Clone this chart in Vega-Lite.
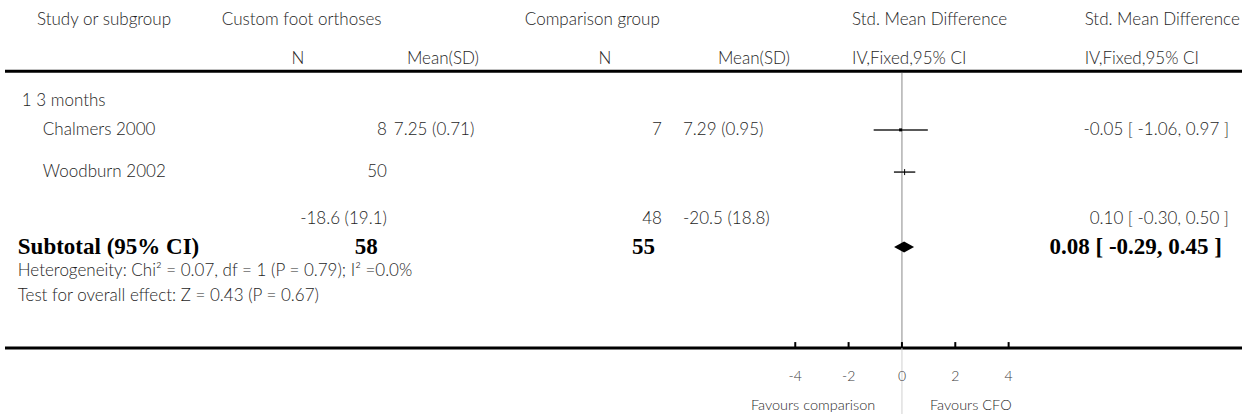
{
  "$schema": "https://vega.github.io/schema/vega-lite/v6.json",
  "width": 1237,
  "height": 414,
  "autosize": {"type": "none"},
  "padding": {"left": 5, "top": 0, "right": 0, "bottom": 0},
  "background": "white",
  "config": {
    "view": {"stroke": null},
    "text": {"font": "Lato", "fontWeight": 300, "fontSize": 17, "color": "#1e1e1e", "baseline": "middle"}
  },
  "datasets": {
    "rows": [
      {"line": 3.9, "group": "1 3 months"},
      {"line": 5.02, "study": "Chalmers 2000", "n1": "8", "mean1": "7.25 (0.71)", "n2": "7", "mean2": "7.29 (0.95)", "ci": "-0.05 [ -1.06, 0.97 ]", "smd": -0.05, "lo": -1.06, "hi": 0.97, "marker": "square"},
      {"line": 6.65, "study": "Woodburn 2002", "n1": "50", "smd": 0.10, "lo": -0.30, "hi": 0.50, "marker": "bar"},
      {"line": 8.46, "mean1r": "-18.6 (19.1)", "n2": "48", "mean2": "-20.5 (18.8)", "ci": "0.10 [ -0.30, 0.50 ]"}
    ],
    "subtotal": [
      {"line": 9.55, "label": "Subtotal (95% CI)", "n1": "58", "n2": "55", "ci": "0.08 [ -0.29, 0.45 ]", "smd": 0.08, "lo": -0.29, "hi": 0.45}
    ],
    "notes": [
      {"line": 10.47, "text": "Heterogeneity: Chi² = 0.07, df = 1 (P = 0.79); I² =0.0%"},
      {"line": 11.44, "text": "Test for overall effect: Z = 0.43 (P = 0.67)"}
    ],
    "headers": [
      {"line": 0.78, "col": "study", "text": "Study or subgroup"},
      {"line": 0.78, "col": "g1", "text": "Custom foot orthoses"},
      {"line": 0.78, "col": "g2", "text": "Comparison group"},
      {"line": 0.78, "col": "plot", "text": "Std. Mean Difference"},
      {"line": 0.78, "col": "est", "text": "Std. Mean Difference"},
      {"line": 2.28, "col": "n1", "text": "N"},
      {"line": 2.28, "col": "m1", "text": "Mean(SD)"},
      {"line": 2.28, "col": "n2", "text": "N"},
      {"line": 2.28, "col": "m2", "text": "Mean(SD)"},
      {"line": 2.28, "col": "plot", "text": "IV,Fixed,95% CI"},
      {"line": 2.28, "col": "est", "text": "IV,Fixed,95% CI"}
    ],
    "ticks": [
      {"v": -4, "label": "-4"}, {"v": -2, "label": "-2"}, {"v": 0, "label": "0"}, {"v": 2, "label": "2"}, {"v": 4, "label": "4"}
    ],
    "favours": [
      {"side": "left", "text": "Favours comparison"},
      {"side": "right", "text": "Favours CFO"}
    ]
  },
  "layer": [
    {
      "data": {"values": [{}]},
      "mark": {"type": "rule", "strokeWidth": 3, "color": "#000"},
      "encoding": {
        "x": {"datum": -33.63, "type": "quantitative", "scale": {"domain": [-33.63, 12.75], "nice": false, "zero": false}, "axis": null},
        "x2": {"datum": 12.75},
        "y": {"datum": 2.75, "type": "quantitative", "scale": {"domain": [0, 16], "nice": false, "zero": false, "reverse": true}, "axis": null}
      }
    },
    {
      "data": {"values": [{}]},
      "mark": {"type": "rule", "strokeWidth": 3, "color": "#000"},
      "encoding": {
        "x": {"datum": -33.63, "type": "quantitative"},
        "x2": {"datum": 12.75},
        "y": {"datum": 13.45, "type": "quantitative"}
      }
    },
    {
      "data": {"values": [{}]},
      "mark": {"type": "rule", "strokeWidth": 1, "color": "#8a8a8a"},
      "encoding": {
        "x": {"datum": 0, "type": "quantitative"},
        "y": {"datum": 2.82, "type": "quantitative"},
        "y2": {"datum": 13.45}
      }
    },
    {
      "data": {"values": [{}]},
      "mark": {"type": "rule", "strokeWidth": 1, "color": "#d0d0d0"},
      "encoding": {
        "x": {"datum": 0, "type": "quantitative"},
        "y": {"datum": 13.45, "type": "quantitative"},
        "y2": {"datum": 16}
      }
    },
    {
      "data": {"name": "ticks"},
      "mark": {"type": "rule", "strokeWidth": 2, "color": "#000"},
      "encoding": {
        "x": {"field": "v", "type": "quantitative"},
        "y": {"datum": 13.22, "type": "quantitative"},
        "y2": {"datum": 13.45}
      }
    },
    {
      "data": {"name": "ticks"},
      "mark": {"type": "text", "align": "center", "fontSize": 14, "color": "#3a3a3a"},
      "encoding": {
        "x": {"field": "v", "type": "quantitative"},
        "y": {"datum": 14.57, "type": "quantitative"},
        "text": {"field": "label"}
      }
    },
    {
      "data": {"name": "favours"},
      "transform": [{"filter": "datum.side === 'left'"}],
      "mark": {"type": "text", "align": "right", "fontSize": 14.5, "color": "#2a2a2a"},
      "encoding": {
        "x": {"datum": -1.0, "type": "quantitative"},
        "y": {"datum": 15.69, "type": "quantitative"},
        "text": {"field": "text"}
      }
    },
    {
      "data": {"name": "favours"},
      "transform": [{"filter": "datum.side === 'right'"}],
      "mark": {"type": "text", "align": "left", "fontSize": 14.5, "color": "#2a2a2a"},
      "encoding": {
        "x": {"datum": 1.05, "type": "quantitative"},
        "y": {"datum": 15.69, "type": "quantitative"},
        "text": {"field": "text"}
      }
    },
    {
      "data": {"name": "headers"},
      "transform": [{"filter": "datum.col === 'study'"}],
      "mark": {"type": "text", "align": "left"},
      "encoding": {"x": {"datum": -32.43, "type": "quantitative"}, "y": {"field": "line", "type": "quantitative"}, "text": {"field": "text"}}
    },
    {
      "data": {"name": "headers"},
      "transform": [{"filter": "datum.col === 'g1'"}],
      "mark": {"type": "text", "align": "left"},
      "encoding": {"x": {"datum": -25.5, "type": "quantitative"}, "y": {"field": "line", "type": "quantitative"}, "text": {"field": "text"}}
    },
    {
      "data": {"name": "headers"},
      "transform": [{"filter": "datum.col === 'g2'"}],
      "mark": {"type": "text", "align": "left"},
      "encoding": {"x": {"datum": -14.14, "type": "quantitative"}, "y": {"field": "line", "type": "quantitative"}, "text": {"field": "text"}}
    },
    {
      "data": {"name": "headers"},
      "transform": [{"filter": "datum.col === 'plot'"}],
      "mark": {"type": "text", "align": "left"},
      "encoding": {"x": {"datum": -1.87, "type": "quantitative"}, "y": {"field": "line", "type": "quantitative"}, "text": {"field": "text"}}
    },
    {
      "data": {"name": "headers"},
      "transform": [{"filter": "datum.col === 'est'"}],
      "mark": {"type": "text", "align": "left"},
      "encoding": {"x": {"datum": 6.85, "type": "quantitative"}, "y": {"field": "line", "type": "quantitative"}, "text": {"field": "text"}}
    },
    {
      "data": {"name": "headers"},
      "transform": [{"filter": "datum.col === 'n1'"}],
      "mark": {"type": "text", "align": "center"},
      "encoding": {"x": {"datum": -22.65, "type": "quantitative"}, "y": {"field": "line", "type": "quantitative"}, "text": {"field": "text"}}
    },
    {
      "data": {"name": "headers"},
      "transform": [{"filter": "datum.col === 'm1'"}],
      "mark": {"type": "text", "align": "left"},
      "encoding": {"x": {"datum": -18.56, "type": "quantitative"}, "y": {"field": "line", "type": "quantitative"}, "text": {"field": "text"}}
    },
    {
      "data": {"name": "headers"},
      "transform": [{"filter": "datum.col === 'n2'"}],
      "mark": {"type": "text", "align": "center"},
      "encoding": {"x": {"datum": -11.14, "type": "quantitative"}, "y": {"field": "line", "type": "quantitative"}, "text": {"field": "text"}}
    },
    {
      "data": {"name": "headers"},
      "transform": [{"filter": "datum.col === 'm2'"}],
      "mark": {"type": "text", "align": "left"},
      "encoding": {"x": {"datum": -6.9, "type": "quantitative"}, "y": {"field": "line", "type": "quantitative"}, "text": {"field": "text"}}
    },
    {
      "data": {"name": "rows"},
      "transform": [{"filter": "datum.group"}],
      "mark": {"type": "text", "align": "left"},
      "encoding": {"x": {"datum": -33.0, "type": "quantitative"}, "y": {"field": "line", "type": "quantitative"}, "text": {"field": "group"}}
    },
    {
      "data": {"name": "rows"},
      "transform": [{"filter": "datum.study"}],
      "mark": {"type": "text", "align": "left"},
      "encoding": {"x": {"datum": -32.21, "type": "quantitative"}, "y": {"field": "line", "type": "quantitative"}, "text": {"field": "study"}}
    },
    {
      "data": {"name": "rows"},
      "transform": [{"filter": "datum.n1"}],
      "mark": {"type": "text", "align": "right"},
      "encoding": {"x": {"datum": -19.31, "type": "quantitative"}, "y": {"field": "line", "type": "quantitative"}, "text": {"field": "n1"}}
    },
    {
      "data": {"name": "rows"},
      "transform": [{"filter": "datum.mean1"}],
      "mark": {"type": "text", "align": "left"},
      "encoding": {"x": {"datum": -19.05, "type": "quantitative"}, "y": {"field": "line", "type": "quantitative"}, "text": {"field": "mean1"}}
    },
    {
      "data": {"name": "rows"},
      "transform": [{"filter": "datum.mean1r"}],
      "mark": {"type": "text", "align": "right"},
      "encoding": {"x": {"datum": -19.31, "type": "quantitative"}, "y": {"field": "line", "type": "quantitative"}, "text": {"field": "mean1r"}}
    },
    {
      "data": {"name": "rows"},
      "transform": [{"filter": "datum.n2"}],
      "mark": {"type": "text", "align": "right"},
      "encoding": {"x": {"datum": -9.0, "type": "quantitative"}, "y": {"field": "line", "type": "quantitative"}, "text": {"field": "n2"}}
    },
    {
      "data": {"name": "rows"},
      "transform": [{"filter": "datum.mean2"}],
      "mark": {"type": "text", "align": "left"},
      "encoding": {"x": {"datum": -8.21, "type": "quantitative"}, "y": {"field": "line", "type": "quantitative"}, "text": {"field": "mean2"}}
    },
    {
      "data": {"name": "rows"},
      "transform": [{"filter": "datum.ci"}],
      "mark": {"type": "text", "align": "right"},
      "encoding": {"x": {"datum": 12.26, "type": "quantitative"}, "y": {"field": "line", "type": "quantitative"}, "text": {"field": "ci"}}
    },
    {
      "data": {"name": "subtotal"},
      "mark": {"type": "text", "align": "left", "font": "Liberation Serif", "fontWeight": "bold", "fontSize": 23, "color": "#000"},
      "encoding": {"x": {"datum": -33.15, "type": "quantitative"}, "y": {"field": "line", "type": "quantitative"}, "text": {"field": "label"}}
    },
    {
      "data": {"name": "subtotal"},
      "mark": {"type": "text", "align": "right", "font": "Liberation Serif", "fontWeight": "bold", "fontSize": 23, "color": "#000"},
      "encoding": {"x": {"datum": -19.65, "type": "quantitative"}, "y": {"field": "line", "type": "quantitative"}, "text": {"field": "n1"}}
    },
    {
      "data": {"name": "subtotal"},
      "mark": {"type": "text", "align": "right", "font": "Liberation Serif", "fontWeight": "bold", "fontSize": 23, "color": "#000"},
      "encoding": {"x": {"datum": -9.26, "type": "quantitative"}, "y": {"field": "line", "type": "quantitative"}, "text": {"field": "n2"}}
    },
    {
      "data": {"name": "subtotal"},
      "mark": {"type": "text", "align": "right", "font": "Liberation Serif", "fontWeight": "bold", "fontSize": 23, "color": "#000"},
      "encoding": {"x": {"datum": 12.0, "type": "quantitative"}, "y": {"field": "line", "type": "quantitative"}, "text": {"field": "ci"}}
    },
    {
      "data": {"name": "notes"},
      "mark": {"type": "text", "align": "left"},
      "encoding": {"x": {"datum": -33.15, "type": "quantitative"}, "y": {"field": "line", "type": "quantitative"}, "text": {"field": "text"}}
    },
    {
      "data": {"name": "rows"},
      "transform": [{"filter": "isValid(datum.lo)"}],
      "mark": {"type": "rule", "strokeWidth": 1.5, "color": "#222"},
      "encoding": {
        "x": {"field": "lo", "type": "quantitative"},
        "x2": {"field": "hi"},
        "y": {"field": "line", "type": "quantitative"}
      }
    },
    {
      "data": {"name": "rows"},
      "transform": [{"filter": "datum.marker === 'square'"}],
      "mark": {"type": "point", "shape": "square", "filled": true, "size": 9, "color": "#000", "opacity": 1},
      "encoding": {
        "x": {"field": "smd", "type": "quantitative"},
        "y": {"field": "line", "type": "quantitative"}
      }
    },
    {
      "data": {"name": "rows"},
      "transform": [{"filter": "datum.marker === 'bar'"}],
      "mark": {"type": "point", "shape": "M0,-1L0,1", "filled": false, "size": 36, "strokeWidth": 1, "color": "#000", "opacity": 1},
      "encoding": {
        "x": {"field": "smd", "type": "quantitative"},
        "y": {"field": "line", "type": "quantitative"}
      }
    },
    {
      "data": {"name": "subtotal"},
      "mark": {"type": "point", "shape": "M-1,0L0,-0.55L1,0L0,0.55Z", "filled": true, "size": 400, "color": "#000", "opacity": 1},
      "encoding": {
        "x": {"field": "smd", "type": "quantitative"},
        "y": {"field": "line", "type": "quantitative"}
      }
    }
  ]
}
